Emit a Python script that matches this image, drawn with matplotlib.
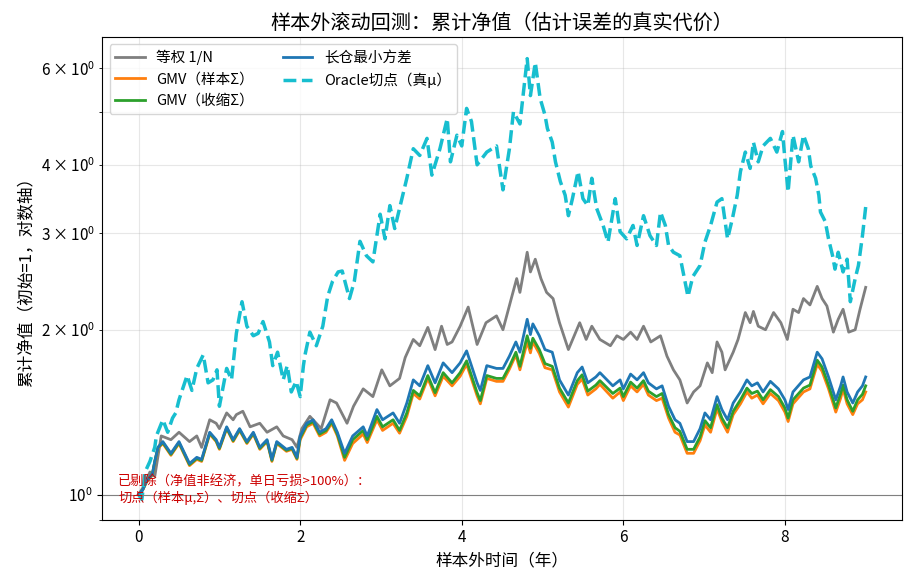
import matplotlib
matplotlib.use("Agg")
import matplotlib.pyplot as plt
import numpy as np

plt.rcParams['font.family'] = ['Noto Sans CJK SC', 'DejaVu Sans']
plt.rcParams['axes.unicode_minus'] = False

# 等权 1/N
t_ew = [0.00, 0.07, 0.14, 0.20, 0.28, 0.40, 0.50, 0.63, 0.72, 0.78, 0.88, 0.96, 1.00, 1.09, 1.17,
        1.21, 1.29, 1.38, 1.50, 1.59, 1.71, 1.79, 1.90, 1.96, 2.02, 2.12, 2.26, 2.37, 2.45, 2.58,
        2.66, 2.78, 2.90, 3.01, 3.11, 3.23, 3.30, 3.40, 3.48, 3.58, 3.67, 3.75, 3.82, 3.88, 3.98,
        4.08, 4.19, 4.30, 4.43, 4.51, 4.62, 4.68, 4.72, 4.81, 4.85, 4.91, 4.98, 5.05, 5.13, 5.21,
        5.32, 5.46, 5.54, 5.61, 5.71, 5.84, 5.92, 6.00, 6.09, 6.17, 6.25, 6.34, 6.46, 6.54, 6.62,
        6.70, 6.79, 6.87, 6.95, 7.04, 7.10, 7.16, 7.22, 7.26, 7.36, 7.42, 7.51, 7.57, 7.61, 7.67,
        7.76, 7.86, 7.95, 8.03, 8.10, 8.17, 8.23, 8.31, 8.40, 8.46, 8.52, 8.60, 8.66, 8.72, 8.79,
        8.87, 8.93, 9.00]
nav_ew = [1.00, 1.04, 1.10, 1.08, 1.28, 1.26, 1.30, 1.25, 1.28, 1.22, 1.37, 1.35, 1.32, 1.41, 1.37,
          1.40, 1.42, 1.33, 1.35, 1.30, 1.33, 1.28, 1.26, 1.22, 1.32, 1.39, 1.32, 1.49, 1.47, 1.35,
          1.45, 1.56, 1.51, 1.69, 1.58, 1.63, 1.78, 1.92, 1.87, 2.02, 1.84, 2.03, 1.88, 1.90, 2.03,
          2.20, 1.88, 2.06, 2.12, 2.00, 2.30, 2.48, 2.34, 2.77, 2.55, 2.69, 2.48, 2.34, 2.28, 2.06,
          1.84, 2.06, 1.92, 2.03, 1.92, 1.87, 1.95, 1.92, 1.98, 1.92, 2.03, 1.90, 1.95, 1.79, 1.69,
          1.62, 1.47, 1.54, 1.58, 1.74, 1.67, 1.90, 1.82, 1.69, 1.82, 1.92, 2.15, 2.06, 2.16, 2.03,
          2.00, 2.15, 2.06, 1.92, 2.18, 2.15, 2.28, 2.22, 2.40, 2.28, 2.21, 1.98, 2.09, 2.18, 1.98,
          2.00, 2.18, 2.39]

# 长仓最小方差 / GMV（收缩Σ）/ GMV（样本Σ），同一时间点
t_mv = [0.00, 0.05, 0.10, 0.17, 0.20, 0.24, 0.30, 0.40, 0.50, 0.63, 0.72, 0.78, 0.88, 0.96, 1.00,
        1.09, 1.17, 1.25, 1.34, 1.42, 1.50, 1.59, 1.65, 1.71, 1.83, 1.90, 1.96, 2.00, 2.08, 2.16,
        2.24, 2.32, 2.39, 2.46, 2.55, 2.65, 2.78, 2.83, 2.95, 3.02, 3.15, 3.23, 3.32, 3.40, 3.48,
        3.58, 3.67, 3.77, 3.88, 3.98, 4.06, 4.19, 4.23, 4.31, 4.43, 4.51, 4.59, 4.67, 4.72, 4.81,
        4.85, 4.88, 4.96, 5.03, 5.12, 5.21, 5.32, 5.43, 5.49, 5.56, 5.66, 5.71, 5.87, 5.96, 6.00,
        6.09, 6.17, 6.25, 6.31, 6.41, 6.48, 6.56, 6.64, 6.70, 6.79, 6.87, 6.95, 7.01, 7.08, 7.16,
        7.22, 7.29, 7.36, 7.45, 7.53, 7.59, 7.66, 7.73, 7.82, 7.92, 8.00, 8.04, 8.10, 8.23, 8.31,
        8.40, 8.46, 8.54, 8.63, 8.69, 8.72, 8.77, 8.84, 8.90, 8.96, 9.00]
nav_lo = [1.00, 1.02, 1.06, 1.09, 1.15, 1.22, 1.25, 1.19, 1.25, 1.14, 1.17, 1.16, 1.30, 1.26, 1.22,
          1.33, 1.26, 1.32, 1.25, 1.30, 1.22, 1.26, 1.16, 1.25, 1.21, 1.22, 1.17, 1.28, 1.35, 1.37,
          1.30, 1.32, 1.37, 1.30, 1.19, 1.28, 1.33, 1.28, 1.43, 1.37, 1.41, 1.35, 1.47, 1.62, 1.58,
          1.72, 1.60, 1.74, 1.67, 1.74, 1.83, 1.60, 1.55, 1.72, 1.70, 1.70, 1.79, 1.90, 1.82, 2.09,
          1.96, 2.05, 1.95, 1.84, 1.82, 1.62, 1.52, 1.67, 1.71, 1.60, 1.64, 1.67, 1.58, 1.62, 1.56,
          1.66, 1.62, 1.67, 1.60, 1.56, 1.58, 1.45, 1.37, 1.35, 1.25, 1.25, 1.32, 1.41, 1.37, 1.51,
          1.43, 1.37, 1.47, 1.54, 1.62, 1.58, 1.60, 1.54, 1.61, 1.56, 1.49, 1.43, 1.54, 1.62, 1.64,
          1.82, 1.77, 1.64, 1.49, 1.58, 1.64, 1.54, 1.47, 1.54, 1.58, 1.64]
nav_gmv_shr = [1.00, 1.02, 1.06, 1.09, 1.15, 1.22, 1.245, 1.185, 1.245, 1.135, 1.165, 1.155, 1.295, 1.255, 1.215,
               1.325, 1.255, 1.315, 1.245, 1.295, 1.215, 1.255, 1.155, 1.245, 1.205, 1.215, 1.165, 1.27, 1.34, 1.36,
               1.29, 1.31, 1.36, 1.29, 1.17, 1.26, 1.31, 1.26, 1.39, 1.33, 1.37, 1.31, 1.41, 1.55, 1.515,
               1.65, 1.535, 1.67, 1.60, 1.67, 1.755, 1.535, 1.485, 1.65, 1.63, 1.63, 1.715, 1.82, 1.715, 1.95,
               1.85, 1.93, 1.84, 1.735, 1.715, 1.565, 1.47, 1.615, 1.655, 1.545, 1.585, 1.615, 1.53, 1.565, 1.51,
               1.605, 1.565, 1.615, 1.545, 1.51, 1.53, 1.40, 1.325, 1.305, 1.21, 1.21, 1.275, 1.365, 1.325, 1.46,
               1.38, 1.325, 1.42, 1.49, 1.565, 1.53, 1.545, 1.49, 1.555, 1.51, 1.44, 1.38, 1.49, 1.565, 1.585,
               1.76, 1.71, 1.585, 1.44, 1.53, 1.585, 1.49, 1.42, 1.49, 1.525, 1.58]
nav_gmv_smp = [1.00, 1.02, 1.055, 1.085, 1.145, 1.215, 1.24, 1.18, 1.24, 1.13, 1.16, 1.15, 1.29, 1.25, 1.21,
               1.32, 1.25, 1.31, 1.24, 1.29, 1.21, 1.25, 1.15, 1.24, 1.20, 1.21, 1.16, 1.26, 1.33, 1.35,
               1.28, 1.30, 1.35, 1.28, 1.155, 1.24, 1.29, 1.245, 1.37, 1.31, 1.35, 1.295, 1.39, 1.53, 1.495,
               1.63, 1.515, 1.645, 1.58, 1.645, 1.73, 1.515, 1.465, 1.63, 1.61, 1.61, 1.695, 1.80, 1.69, 1.90,
               1.815, 1.90, 1.81, 1.705, 1.69, 1.54, 1.445, 1.59, 1.625, 1.52, 1.56, 1.59, 1.50, 1.54, 1.485,
               1.58, 1.54, 1.59, 1.52, 1.485, 1.50, 1.38, 1.30, 1.285, 1.19, 1.19, 1.255, 1.34, 1.30, 1.435,
               1.36, 1.30, 1.40, 1.465, 1.54, 1.50, 1.52, 1.465, 1.53, 1.485, 1.415, 1.36, 1.465, 1.54, 1.56,
               1.73, 1.68, 1.56, 1.415, 1.50, 1.56, 1.465, 1.40, 1.465, 1.49, 1.54]

# Oracle切点（真μ）
t_or = [0.00, 0.04, 0.08, 0.14, 0.20, 0.22, 0.30, 0.36, 0.42, 0.46, 0.50, 0.60, 0.66, 0.72, 0.80,
        0.86, 0.92, 0.97, 1.00, 1.09, 1.15, 1.21, 1.28, 1.34, 1.42, 1.48, 1.54, 1.62, 1.66, 1.72,
        1.79, 1.84, 1.89, 1.95, 2.00, 2.04, 2.06, 2.12, 2.20, 2.28, 2.34, 2.40, 2.47, 2.52, 2.61,
        2.67, 2.74, 2.82, 2.90, 2.99, 3.05, 3.11, 3.17, 3.26, 3.32, 3.40, 3.48, 3.57, 3.63, 3.73,
        3.82, 3.86, 3.94, 4.00, 4.06, 4.12, 4.19, 4.31, 4.43, 4.51, 4.59, 4.64, 4.72, 4.81, 4.85,
        4.91, 4.97, 5.03, 5.06, 5.12, 5.16, 5.22, 5.28, 5.32, 5.37, 5.44, 5.50, 5.56, 5.61, 5.67,
        5.75, 5.81, 5.90, 5.96, 6.04, 6.12, 6.17, 6.25, 6.33, 6.41, 6.46, 6.52, 6.56, 6.62, 6.70,
        6.74, 6.80, 6.86, 6.95, 7.01, 7.08, 7.16, 7.22, 7.29, 7.35, 7.41, 7.45, 7.51, 7.57, 7.61,
        7.67, 7.73, 7.82, 7.90, 7.97, 8.00, 8.04, 8.10, 8.17, 8.23, 8.29, 8.32, 8.38, 8.42, 8.44,
        8.50, 8.54, 8.59, 8.62, 8.66, 8.72, 8.77, 8.81, 8.87, 8.91, 8.96, 9.00]
nav_or = [1.00, 0.98, 1.10, 1.15, 1.22, 1.28, 1.37, 1.30, 1.38, 1.41, 1.49, 1.65, 1.55, 1.70, 1.80,
          1.60, 1.62, 1.69, 1.45, 1.70, 1.62, 1.97, 2.25, 2.03, 1.95, 1.97, 2.07, 1.90, 1.72, 1.82,
          1.62, 1.72, 1.54, 1.61, 1.51, 1.72, 1.80, 1.98, 1.87, 2.03, 2.30, 2.45, 2.55, 2.56, 2.28,
          2.45, 2.90, 2.73, 2.66, 3.25, 2.93, 3.37, 3.06, 3.47, 3.78, 4.28, 4.16, 4.47, 3.83, 4.28,
          4.86, 4.05, 4.53, 4.33, 5.07, 4.80, 4.00, 4.22, 4.33, 3.60, 4.28, 5.00, 4.75, 6.25, 5.35,
          6.15, 5.29, 4.93, 4.66, 4.40, 4.05, 3.73, 3.52, 3.23, 3.47, 3.89, 3.47, 3.37, 3.78, 3.33,
          3.10, 2.89, 3.47, 3.02, 2.93, 3.10, 2.85, 3.23, 2.97, 2.85, 3.28, 3.10, 2.85, 2.77, 2.73,
          2.55, 2.30, 2.50, 2.62, 2.89, 3.10, 3.42, 3.47, 2.93, 3.19, 3.52, 3.89, 4.22, 3.94, 4.40,
          4.05, 4.33, 4.47, 4.22, 4.60, 4.10, 3.57, 4.53, 4.05, 4.53, 4.28, 3.98, 3.78, 3.52, 3.28,
          3.15, 2.93, 2.73, 2.58, 2.77, 2.55, 2.69, 2.25, 2.48, 2.62, 2.97, 3.35]

fig, ax = plt.subplots(figsize=(9.13, 5.84), dpi=100)
fig.subplots_adjust(left=0.112, right=0.988, bottom=0.11, top=0.937)

ax.plot(t_ew, nav_ew, color='tab:gray', lw=2, label='等权 1/N')
ax.plot(t_mv, nav_gmv_smp, color='tab:orange', lw=2, label='GMV（样本Σ）')
ax.plot(t_mv, nav_gmv_shr, color='tab:green', lw=2, label='GMV（收缩Σ）')
ax.plot(t_mv, nav_lo, color='tab:blue', lw=2, label='长仓最小方差')
ax.plot(t_or, nav_or, color='tab:cyan', lw=2.5, ls='--', label='Oracle切点（真μ）')

ax.axhline(1.0, color='gray', lw=0.8)
ax.set_yscale('log')
ax.set_ylim(0.9, 6.85)
ax.grid(True, which='both', alpha=0.3)

ax.set_title('样本外滚动回测：累计净值（估计误差的真实代价）', fontsize=14.5)
ax.set_xlabel('样本外时间（年）', fontsize=12)
ax.set_ylabel('累计净值（初始=1，对数轴）', fontsize=12)
ax.tick_params(labelsize=11)
ax.tick_params(which='minor', labelsize=11)

ax.legend(loc='upper left', ncol=2, fontsize=10.5)
ax.text(0.02, 0.03, '已剔除（净值非经济，单日亏损>100%）：\n切点（样本μ,Σ）、切点（收缩Σ）',
        transform=ax.transAxes, color='#cc0000', fontsize=9.5, va='bottom', ha='left')

fig.savefig('out.png', dpi=100)
